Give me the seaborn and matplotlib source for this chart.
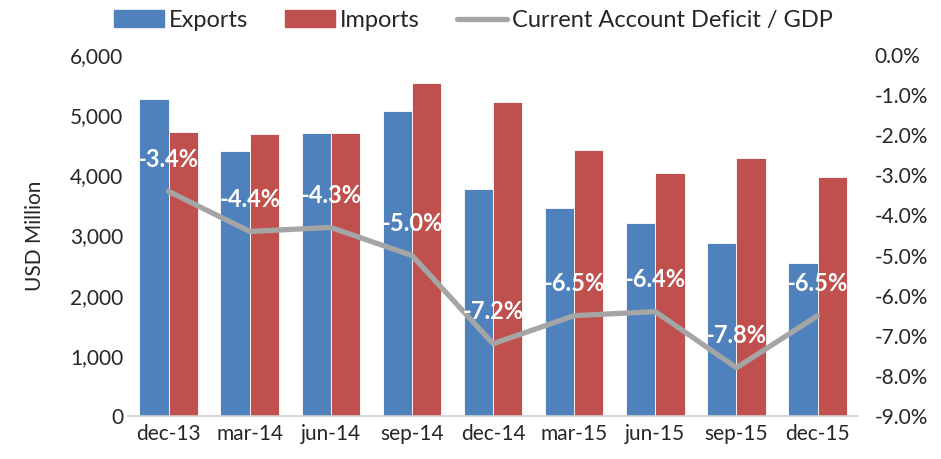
import numpy as np
import pandas as pd
import seaborn as sns
import matplotlib.pyplot as plt
from matplotlib.lines import Line2D
from matplotlib.patches import Patch
from matplotlib.ticker import FuncFormatter

sns.set_style('white')
plt.rcParams['font.family'] = ['Lato', 'DejaVu Sans']

quarters = ['dec-13', 'mar-14', 'jun-14', 'sep-14', 'dec-14', 'mar-15', 'jun-15', 'sep-15', 'dec-15']
exports = [5270, 4400, 4700, 5070, 3770, 3460, 3210, 2870, 2540]
imports = [4720, 4690, 4710, 5530, 5220, 4420, 4040, 4290, 3970]
deficit_gdp = [-3.4, -4.4, -4.3, -5.0, -7.2, -6.5, -6.4, -7.8, -6.5]

blue = '#4F81BD'
red = '#C0504D'
gray = '#A5A5A5'

df = pd.DataFrame({'quarter': quarters * 2,
                   'series': ['Exports'] * len(quarters) + ['Imports'] * len(quarters),
                   'value': exports + imports})

fig = plt.figure(figsize=(9.41, 4.59), dpi=100)
ax = fig.add_axes([0.136, 0.094, 0.776, 0.786])
sns.barplot(data=df, x='quarter', y='value', hue='series', order=quarters,
            palette=[blue, red], saturation=1, width=0.72, edgecolor='white',
            linewidth=0.6, ax=ax, legend=False)
ax.set_ylim(0, 6000)
ax.set_yticks(np.arange(0, 6001, 1000))
ax.yaxis.set_major_formatter(FuncFormatter(lambda v, p: f'{int(v):,}'))
ax.set_xlabel('')
ax.set_ylabel('USD Million', fontsize=15, labelpad=18)
ax.tick_params(axis='both', labelsize=15, length=0)
ax.tick_params(axis='x', pad=6)
for s in ['top', 'right', 'left']:
    ax.spines[s].set_visible(False)
ax.spines['bottom'].set_color('#D0D0D0')
ax.spines['bottom'].set_linewidth(1.2)
ax.set_xlim(-0.5, len(quarters) - 0.5)

ax2 = ax.twinx()
line_df = pd.DataFrame({'quarter': quarters, 'deficit': deficit_gdp})
sns.lineplot(data=line_df, x='quarter', y='deficit', sort=False, color=gray,
             linewidth=3.8, ax=ax2)
ax2.set_ylim(-9, 0)
ax2.set_yticks(np.arange(-9, 0.1, 1))
ax2.yaxis.set_major_formatter(FuncFormatter(lambda v, p: f'{v:.1f}%'))
ax2.set_ylabel('')
ax2.tick_params(axis='y', labelsize=15, length=0, pad=12)
for s in ['top', 'right', 'left', 'bottom']:
    ax2.spines[s].set_visible(False)
ax2.set_xlim(-0.5, len(quarters) - 0.5)

for i, v in enumerate(deficit_gdp):
    ax2.annotate(f'{v:.1f}%', (i, v), xytext=(0, 23), textcoords='offset points',
                 ha='center', va='center', color='white', fontsize=17, fontweight='bold')

handles = [Patch(color=blue), Patch(color=red), Line2D([], [], color=gray, linewidth=3.8)]
fig.legend(handles, ['Exports', 'Imports', 'Current Account Deficit / GDP'],
           loc='upper center', bbox_to_anchor=(0.503, 1.025), ncol=3, frameon=False,
           fontsize=17, handlelength=2.1, columnspacing=1.6, handletextpad=0.2)

fig.savefig('out.png', dpi=100)
